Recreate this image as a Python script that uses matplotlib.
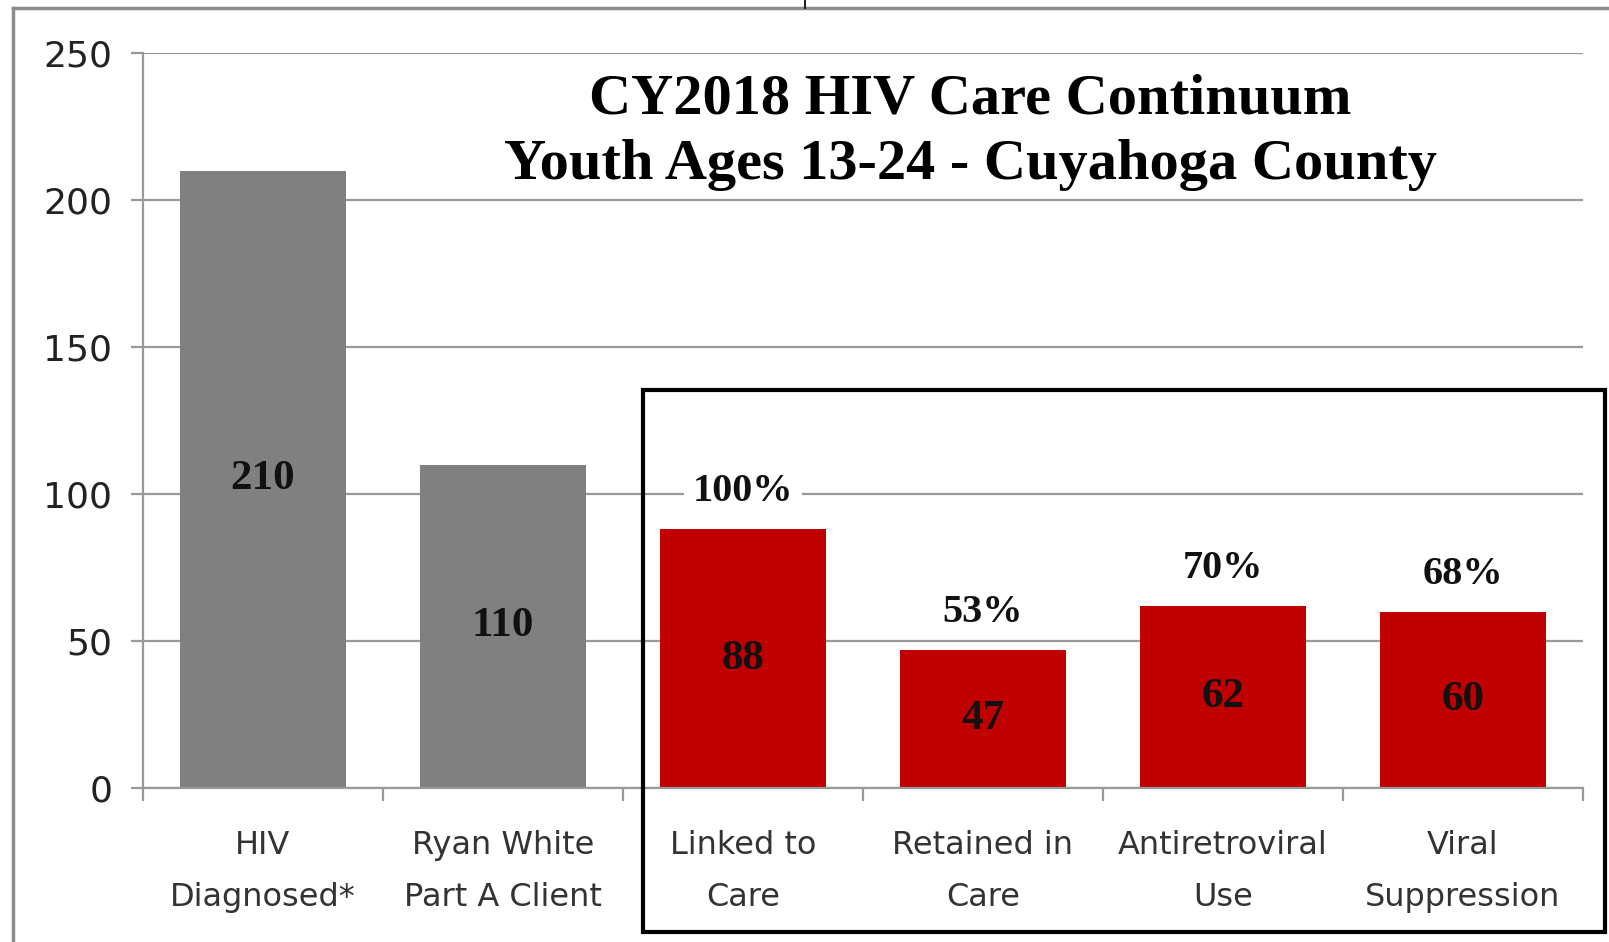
import matplotlib.pyplot as plt
from matplotlib.patches import Rectangle
from matplotlib.lines import Line2D

# data
categories = ["HIV\nDiagnosed*", "Ryan White\nPart A Client", "Linked to\nCare",
              "Retained in\nCare", "Antiretroviral\nUse", "Viral\nSuppression"]
counts = [210, 110, 88, 47, 62, 60]
percents = [None, None, "100%", "53%", "70%", "68%"]
colors = ["#808080", "#808080", "#C00000", "#C00000", "#C00000", "#C00000"]
title = "CY2018 HIV Care Continuum\nYouth Ages 13-24 - Cuyahoga County"

W, H = 1609, 942
fig = plt.figure(figsize=(W / 100, H / 100), dpi=100)
ax = fig.add_axes([143 / W, 1 - 788 / H, (1583 - 143) / W, (788 - 53) / H])

grid_col = "#999999"
x = list(range(len(categories)))
bars = ax.bar(x, counts, width=0.69, color=colors, zorder=2)

ax.set_xlim(-0.5, len(categories) - 0.5)
ax.set_ylim(0, 250)
ax.set_yticks([0, 50, 100, 150, 200, 250])
ax.yaxis.grid(True, color=grid_col, linewidth=1.6)
ax.set_axisbelow(True)

for s in ["top", "right"]:
    ax.spines[s].set_visible(False)
for s in ["left", "bottom"]:
    ax.spines[s].set_color(grid_col)
    ax.spines[s].set_linewidth(1.6)

ax.set_xticks(x)
ax.set_xticklabels(categories, fontsize=23, color="#333333", linespacing=1.9)
ax.tick_params(axis="x", which="major", length=0, pad=30)
ax.set_xticks([i - 0.5 for i in range(len(categories) + 1)], minor=True)
ax.tick_params(axis="x", which="minor", length=9, width=1.6, color=grid_col, direction="out")
ax.tick_params(axis="y", length=9, width=1.6, color=grid_col, labelsize=26,
               labelcolor="#222222", pad=13)

# value labels inside bars
for b, v in zip(bars, counts):
    ax.text(b.get_x() + b.get_width() / 2, v / 2, str(v), ha="center", va="center",
            fontsize=31, fontweight="bold", family="Liberation Serif", color="#111111", zorder=3)

# percentage labels above bars
for b, v, p in zip(bars, counts, percents):
    if p is None:
        continue
    ax.annotate(p, (b.get_x() + b.get_width() / 2, v), xytext=(0, 27), textcoords="offset points",
                ha="center", va="center", fontsize=29, fontweight="bold",
                family="Liberation Serif", color="#111111", zorder=1.5,
                bbox=dict(facecolor="white", edgecolor="none", pad=6))

# title
fig.text(970 / W, 1 - 132 / H, title, ha="center", va="center", fontsize=42,
         fontweight="bold", family="Liberation Serif", linespacing=1.35)

# black box around the last four stages
fig.patches.append(Rectangle((643 / W, 1 - 932 / H), (1605 - 643) / W, (932 - 390) / H,
                             transform=fig.transFigure, fill=False, edgecolor="black",
                             linewidth=3, zorder=5))

# outer chart border (top and left)
fig.add_artist(Line2D([13 / W, 13 / W], [0, 1 - 8 / H], color="#8c8c8c", linewidth=2.5,
                      transform=fig.transFigure))
fig.add_artist(Line2D([13 / W, 1], [1 - 8 / H, 1 - 8 / H], color="#8c8c8c", linewidth=2.5,
                      transform=fig.transFigure))
fig.add_artist(Line2D([805 / W, 805 / W], [1 - 8 / H, 1], color="#222222", linewidth=1.5,
                      transform=fig.transFigure))

fig.savefig("out.png", dpi=100)
